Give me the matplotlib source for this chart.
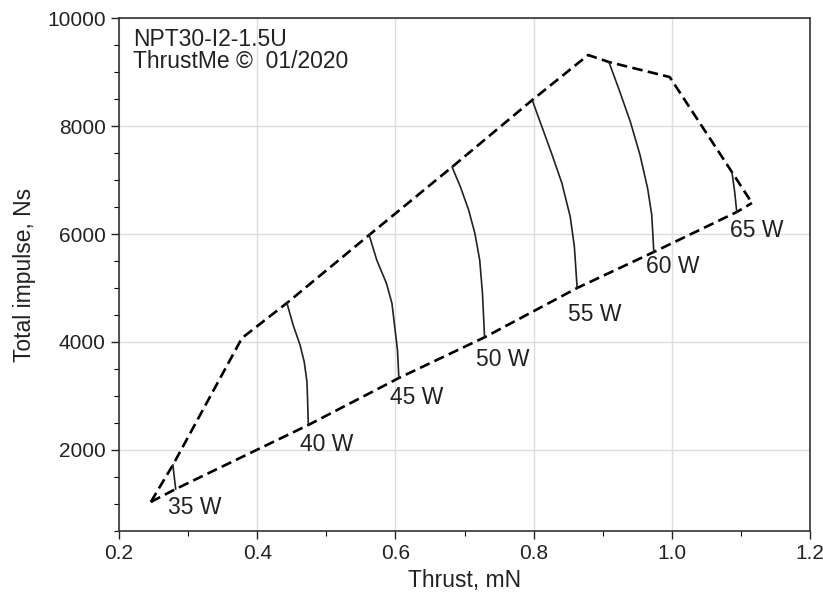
import matplotlib
matplotlib.use("Agg")
import matplotlib.pyplot as plt
from matplotlib.ticker import MultipleLocator

plt.rcParams['font.family'] = ['Liberation Sans', 'DejaVu Sans']

# envelope of the operating region (dashed)
upper_x = [0.246, 0.278, 0.378, 0.443, 0.562, 0.682, 0.798, 0.879, 0.909, 0.997, 1.087, 1.116]
upper_y = [1037, 1722, 4074, 4722, 5981, 7241, 8481, 9315, 9185, 8907, 7148, 6574]
lower_x = [0.246, 0.282, 0.474, 0.605, 0.730, 0.863, 0.974, 1.094, 1.116]
lower_y = [1037, 1277, 2463, 3333, 4093, 5000, 5667, 6407, 6574]

# constant power curves
powers = ['35 W', '40 W', '45 W', '50 W', '55 W', '60 W', '65 W']
curve_x = [
    [0.278, 0.280, 0.282],
    [0.443, 0.452, 0.462, 0.468, 0.472, 0.473, 0.474],
    [0.562, 0.573, 0.587, 0.595, 0.599, 0.603, 0.605],
    [0.682, 0.694, 0.706, 0.715, 0.722, 0.726, 0.729],
    [0.798, 0.812, 0.826, 0.841, 0.853, 0.859, 0.863],
    [0.909, 0.923, 0.940, 0.954, 0.965, 0.971, 0.974],
    [1.087, 1.091, 1.094],
]
curve_y = [
    [1722, 1500, 1277],
    [4722, 4314, 3944, 3635, 3265, 2894, 2463],
    [5981, 5518, 5087, 4716, 4283, 3851, 3333],
    [7241, 6876, 6444, 6013, 5518, 4901, 4093],
    [8481, 7987, 7494, 6939, 6320, 5765, 5000],
    [9185, 8698, 8080, 7463, 6846, 6352, 5667],
    [7148, 6780, 6407],
]
label_x = [0.310, 0.500, 0.631, 0.756, 0.889, 1.002, 1.123]
label_y = [926, 2093, 2963, 3667, 4500, 5389, 6074]

fig = plt.figure(figsize=(8.23, 5.93), dpi=100)
ax = fig.add_axes([0.1446, 0.1046, 0.8396, 0.865])

ax.plot(upper_x, upper_y, color='black', lw=1.9, dashes=(4, 2))
ax.plot(lower_x, lower_y, color='black', lw=1.9, dashes=(4, 2))

for cx, cy in zip(curve_x, curve_y):
    ax.plot(cx, cy, color='#222222', lw=1.2)

for lab, lx, ly in zip(powers, label_x, label_y):
    ax.text(lx, ly, lab, ha='center', va='center', fontsize=16.5, color='#222222')

ax.text(0.02, 0.98, 'NPT30-I2-1.5U\nThrustMe ©  01/2020', transform=ax.transAxes,
        ha='left', va='top', fontsize=16.5, color='#222222', linespacing=0.95)

ax.set_xlim(0.2, 1.2)
ax.set_ylim(500, 10000)
ax.xaxis.set_minor_locator(MultipleLocator(0.1))
ax.yaxis.set_minor_locator(MultipleLocator(500))
ax.set_xticks([0.2, 0.4, 0.6, 0.8, 1.0, 1.2])
ax.set_xticklabels(['0.2', '0.4', '0.6', '0.8', '1.0', '1.2'])
ax.set_yticks([2000, 4000, 6000, 8000, 10000])
ax.set_yticklabels(['2000', '4000', '6000', '8000', '10000'])

ax.grid(True, which='major', color='#dddddd', lw=1)
ax.set_axisbelow(True)
ax.tick_params(which='major', direction='out', length=6, width=1, labelsize=15, colors='#222222')
ax.tick_params(which='minor', direction='out', length=3.5, width=0.8)
for s in ax.spines.values():
    s.set_linewidth(1.2)
    s.set_color('#333333')

ax.set_xlabel('Thrust, mN', fontsize=16.5, color='#222222', labelpad=4)
ax.set_ylabel('Total impulse, Ns', fontsize=16.5, color='#222222', labelpad=8)

fig.savefig('out.png', dpi=100)
